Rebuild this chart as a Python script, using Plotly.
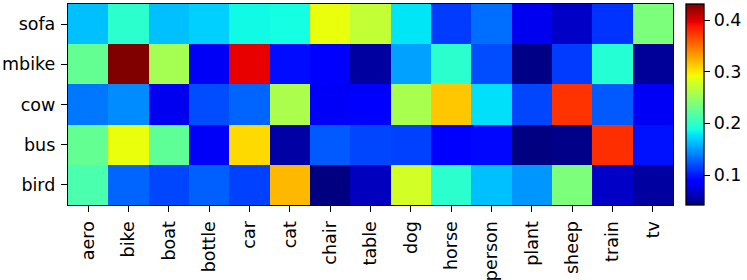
import plotly.graph_objects as go

classes = ["aero", "bike", "boat", "bottle", "car", "cat", "chair", "table",
           "dog", "horse", "person", "plant", "sheep", "train", "tv"]
rows = ["sofa", "mbike", "cow", "bus", "bird"]  # top to bottom

sofa  = [0.164, 0.198, 0.164, 0.170, 0.186, 0.188, 0.289, 0.270, 0.178, 0.113, 0.133, 0.080, 0.066, 0.110, 0.237]
mbike = [0.225, 0.431, 0.256, 0.082, 0.396, 0.095, 0.089, 0.053, 0.152, 0.198, 0.120, 0.044, 0.113, 0.195, 0.050]
cow   = [0.136, 0.144, 0.080, 0.120, 0.129, 0.259, 0.083, 0.086, 0.258, 0.314, 0.176, 0.117, 0.375, 0.125, 0.082]
bus   = [0.225, 0.289, 0.223, 0.083, 0.306, 0.054, 0.125, 0.117, 0.115, 0.087, 0.093, 0.042, 0.045, 0.377, 0.097]
bird  = [0.213, 0.129, 0.117, 0.127, 0.115, 0.320, 0.042, 0.063, 0.277, 0.198, 0.164, 0.148, 0.237, 0.066, 0.053]

z = [sofa, mbike, cow, bus, bird]

# matplotlib-style jet colormap
def c(r, g, b):
    return "rgb(%d,%d,%d)" % (round(r * 255), round(g * 255), round(b * 255))

jet = [
    [0.0, c(0, 0, 0.5)],
    [0.11, c(0, 0, 1)],
    [0.125, c(0, 0, 1)],
    [0.34, c(0, 0.86, 1)],
    [0.35, c(0, 0.9, 0.968)],
    [0.375, c(0.0806, 1, 0.887)],
    [0.64, c(0.935, 1, 0.032)],
    [0.65, c(0.968, 0.963, 0)],
    [0.66, c(1, 0.926, 0)],
    [0.89, c(1, 0.074, 0)],
    [0.91, c(0.909, 0, 0)],
    [1.0, c(0.5, 0, 0)],
]

font = dict(family="DejaVu Sans", size=17.5, color="black")

fig = go.Figure(go.Heatmap(
    z=z, x=classes, y=rows,
    colorscale=jet, zmin=0.042, zmax=0.431,
    xgap=0, ygap=0,
    colorbar=dict(
        x=1.0215, xanchor="left", xref="paper", xpad=0, ypad=0,
        y=0.5, yanchor="middle", len=1.0, lenmode="fraction",
        thickness=18, outlinewidth=1.3, outlinecolor="black",
        tickvals=[0.1, 0.2, 0.3, 0.4], ticktext=["0.1", "0.2", "0.3", "0.4"],
        ticks="outside", ticklen=6, tickwidth=1.3, tickcolor="black",
        tickfont=font,
    ),
))

fig.update_layout(
    template="none",
    width=747, height=280,
    margin=dict(l=68, r=74, t=4, b=75, autoexpand=False),
    paper_bgcolor="white", plot_bgcolor="white",
    font=font,
)
fig.update_xaxes(
    tickangle=-90, ticks="outside", ticklen=6, tickwidth=1.3, tickcolor="black",
    showline=True, linecolor="black", linewidth=1.3, mirror=True,
    tickfont=font, showgrid=False, zeroline=False, automargin=False,
    ticklabelstandoff=2,
)
fig.update_yaxes(
    autorange="reversed", ticks="outside", ticklen=6, tickwidth=1.3, tickcolor="black",
    showline=True, linecolor="black", linewidth=1.3, mirror=True,
    tickfont=font, showgrid=False, zeroline=False, automargin=False,
    ticklabelstandoff=2,
)

fig.write_html(
    "out.html",
    config={"displayModeBar": False},
    post_script="document.body.style.margin='0';document.body.style.overflow='hidden';",
)
